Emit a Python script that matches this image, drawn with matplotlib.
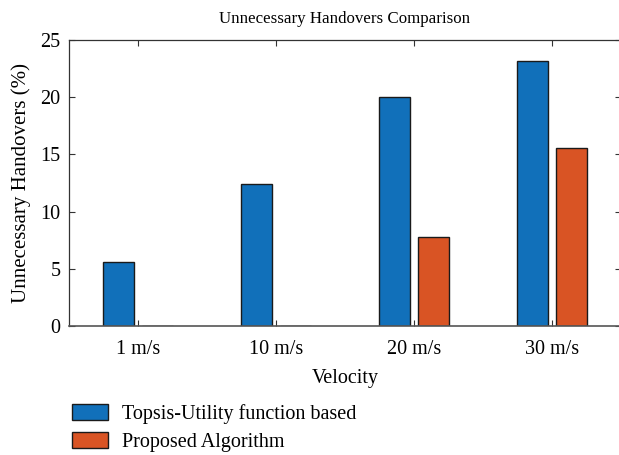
import matplotlib
matplotlib.use("Agg")
import matplotlib.pyplot as plt
import numpy as np

plt.rcParams["font.family"] = ["Liberation Serif", "DejaVu Serif"]

# Unnecessary handover rates per velocity
velocities = ["1 m/s", "10 m/s", "20 m/s", "30 m/s"]
topsis_utility = [5.6, 12.4, 20.0, 23.2]
proposed = [0.0, 0.0, 7.8, 15.6]

fig = plt.figure(figsize=(6.19, 4.55), dpi=100)
ax = fig.add_axes([69 / 619, 1 - 326 / 455, 552 / 619, 286 / 455])

x = np.arange(1, len(velocities) + 1)
w = 0.225
off = 0.14
ax.bar(x - off, topsis_utility, w, color="#1170BA", edgecolor="#1a1a1a",
       linewidth=1.0, label="Topsis-Utility function based")
ax.bar(x + off, proposed, w, color="#D95424", edgecolor="#1a1a1a",
       linewidth=1.0, label="Proposed Algorithm")

ax.set_xlim(0.5, 4.5)
ax.set_ylim(0, 25)
ax.set_xticks(x)
ax.set_xticklabels(velocities)
ax.set_yticks([0, 5, 10, 15, 20, 25])
ax.tick_params(direction="in", top=True, right=True, labelsize=14.5,
               length=4, width=0.8, color="#333333")
ax.tick_params(axis="x", pad=10)
ax.tick_params(axis="y", pad=6)
for s in ax.spines.values():
    s.set_color("#333333")
    s.set_linewidth(0.9)
ax.spines["bottom"].set_color("#555555")
ax.spines["bottom"].set_linewidth(1.2)

ax.set_title("Unnecessary Handovers Comparison", fontsize=12.2, pad=12)
ax.set_xlabel("Velocity", fontsize=14.5, labelpad=7)
ax.set_ylabel("Unnecessary Handovers (%)", fontsize=15, labelpad=7)

fig.legend(loc="upper left", bbox_to_anchor=(72 / 619, 1 - 404 / 455),
           frameon=False, fontsize=14.5, borderpad=0, borderaxespad=0,
           handlelength=1.8, handleheight=0.8, labelspacing=0.42,
           handletextpad=0.7)

fig.savefig("out.png", dpi=100)
